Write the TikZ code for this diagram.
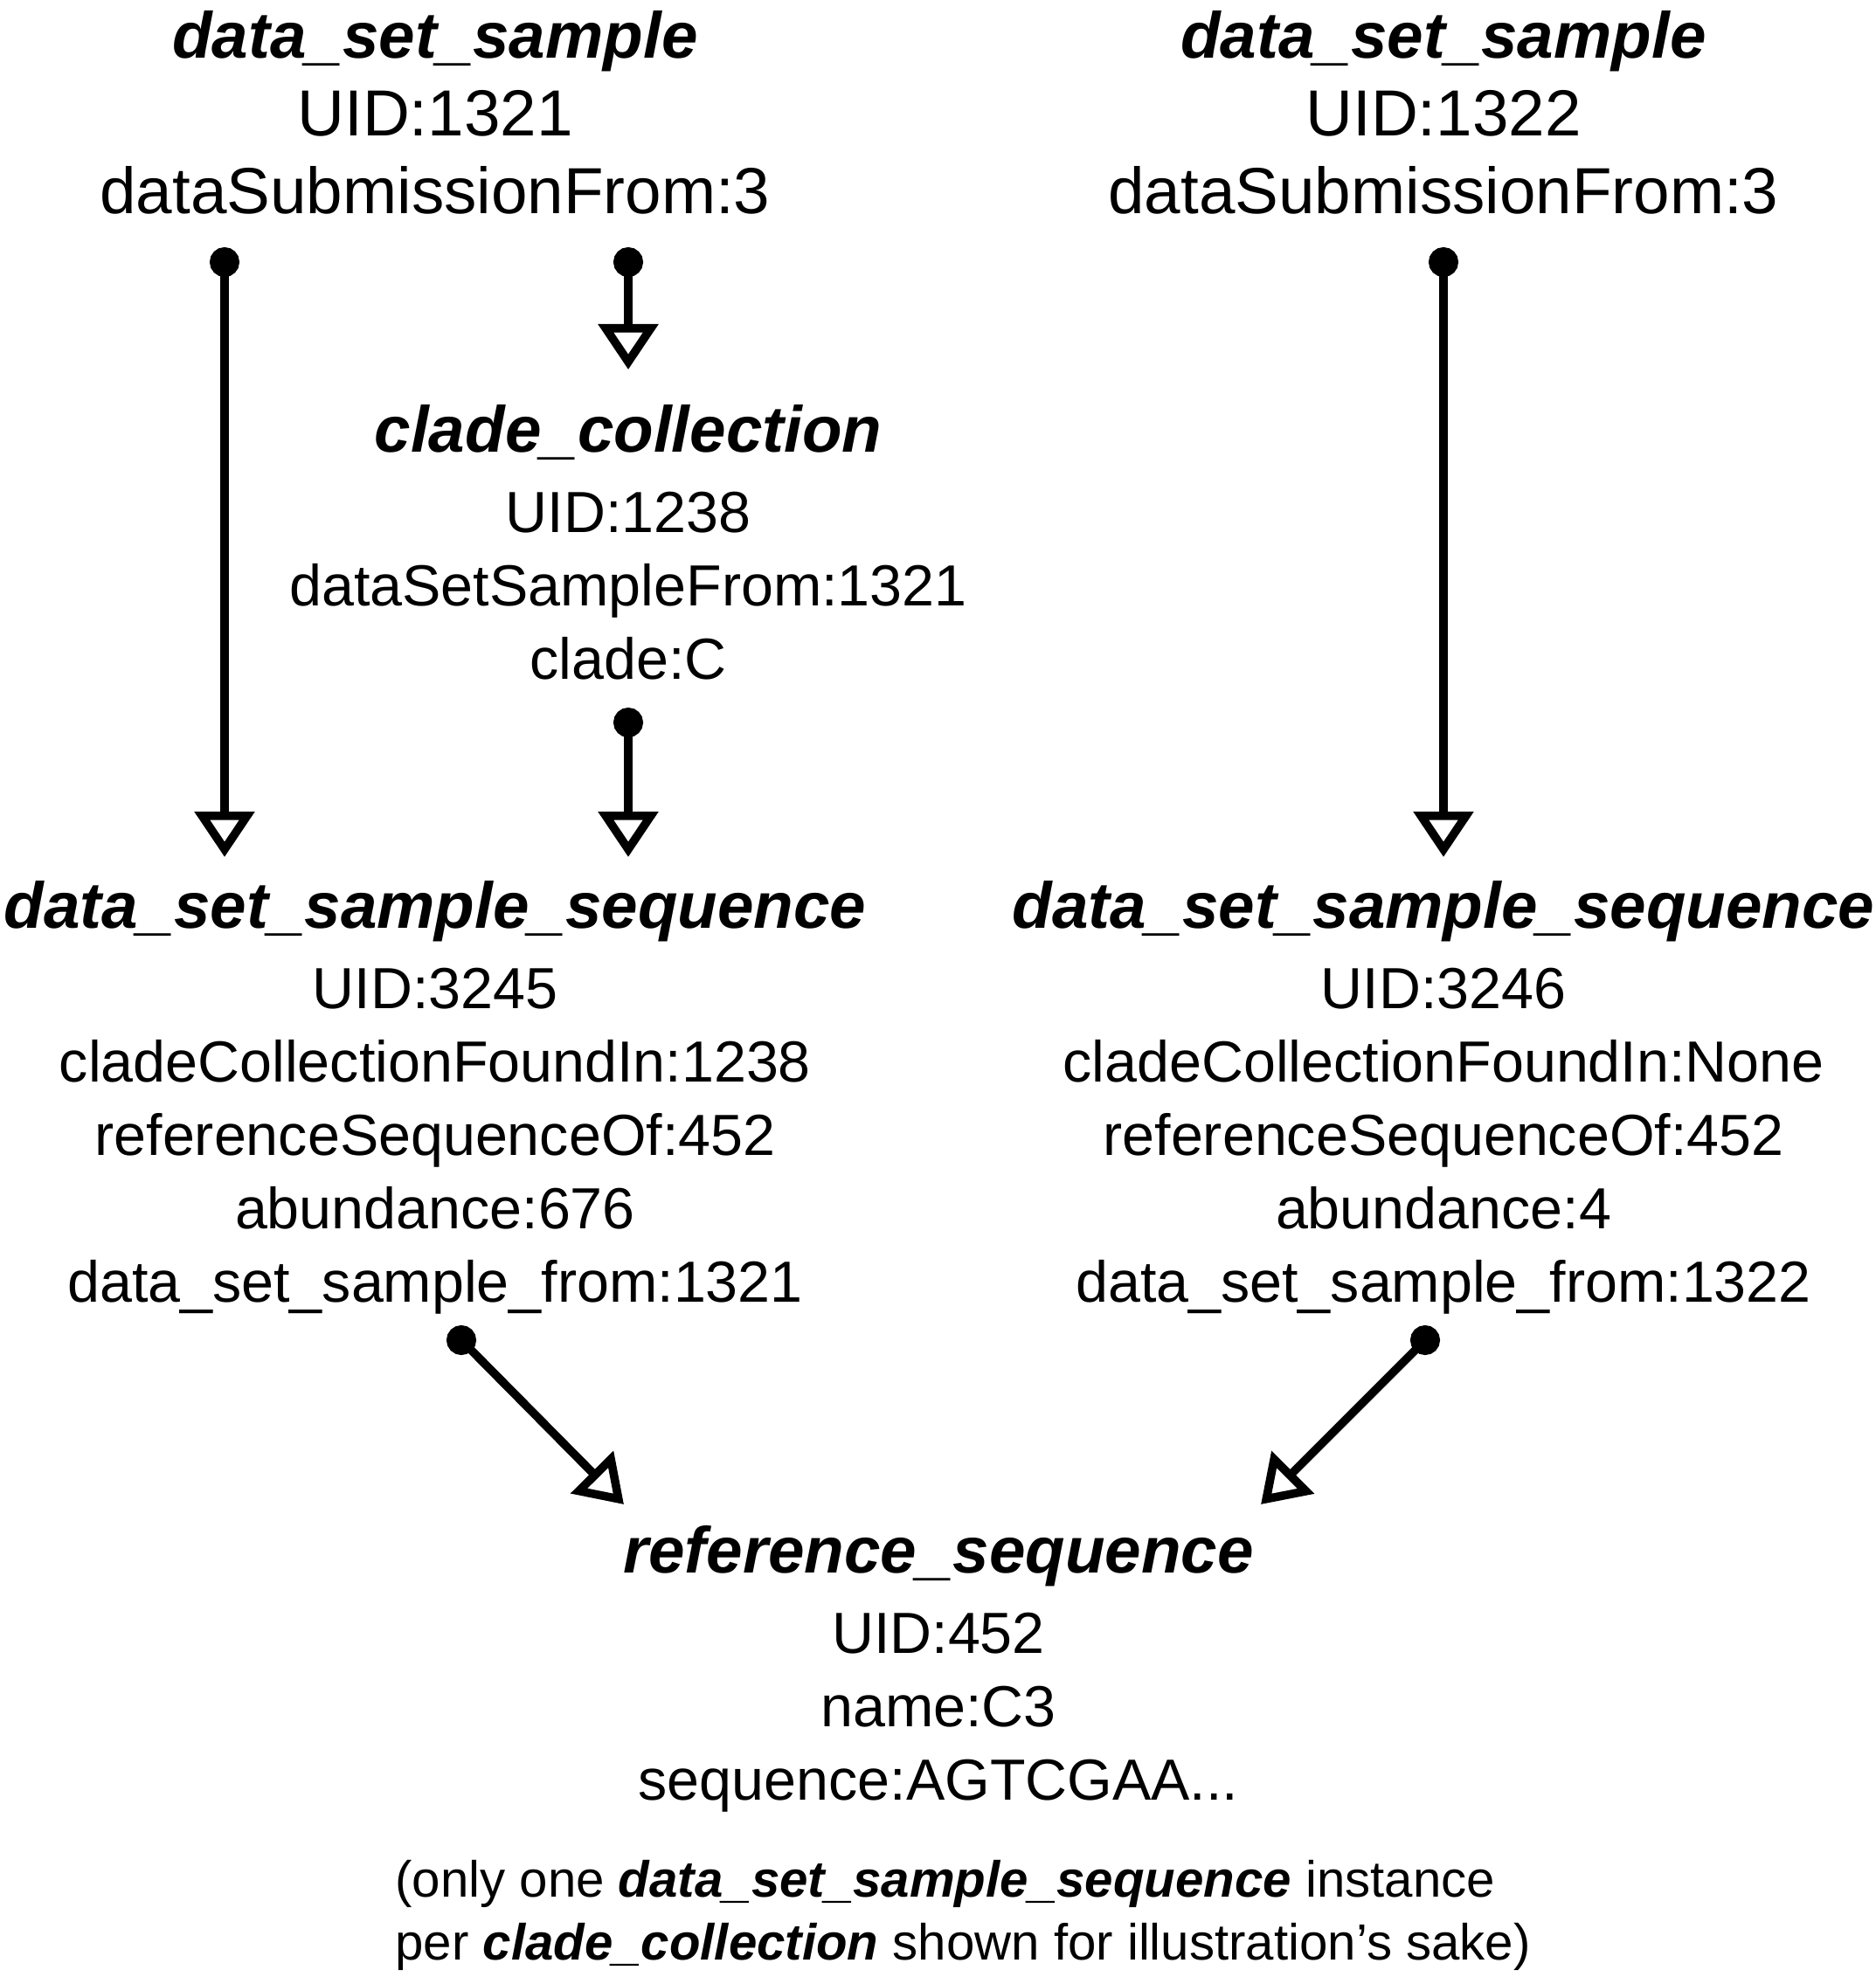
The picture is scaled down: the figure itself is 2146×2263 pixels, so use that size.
\documentclass[tikz,border=0pt]{standalone}
\usepackage{fontspec}
\setmainfont{Liberation Sans}
\usetikzlibrary{arrows.meta,calc}
\newcommand{\tblname}[1]{{\fontsize{37.3}{44.5}\selectfont\bfseries\itshape #1}}
\tikzset{
  topbox/.style={
    font=\fontsize{37.3}{44.5}\selectfont,
    align=center,
    inner sep=0pt,
    anchor=base
  },
  recbox/.style={
    font=\fontsize{33.2}{42}\selectfont,
    align=center,
    inner sep=0pt,
    anchor=base
  },
  notebox/.style={
    font=\fontsize{29.1}{36}\selectfont,
    align=left,
    inner sep=0pt,
    anchor=base west
  },
  fklink/.style={
    line width=4.8pt,
    {Circle[length=17pt]}-{Triangle[open,length=26pt,width=33.5pt]},
    shorten <=-8.5pt
  }
}
\begin{document}
\begin{tikzpicture}[x=0.5pt,y=-0.5pt]
  \useasboundingbox (0,0) rectangle (2146,2263);

  \node[topbox] (dss1) at (498,245) {\tblname{data\_set\_sample}\\UID:1321\\dataSubmissionFrom:3};
  \node[topbox] (dss2) at (1652,245) {\tblname{data\_set\_sample}\\UID:1322\\dataSubmissionFrom:3};
  \node[recbox] (cc) at (719,777) {\tblname{clade\_collection}\\[4pt]UID:1238\\dataSetSampleFrom:1321\\clade:C};
  \node[recbox] (dsseq1) at (498,1490) {\tblname{data\_set\_sample\_sequence}\\[4pt]UID:3245\\cladeCollectionFoundIn:1238\\referenceSequenceOf:452\\abundance:676\\data\_set\_sample\_from:1321};
  \node[recbox] (dsseq2) at (1652,1490) {\tblname{data\_set\_sample\_sequence}\\[4pt]UID:3246\\cladeCollectionFoundIn:None\\referenceSequenceOf:452\\abundance:4\\data\_set\_sample\_from:1322};
  \node[recbox] (refseq) at (1074,2060) {\tblname{reference\_sequence}\\[4pt]UID:452\\name:C3\\sequence:AGTCGAA...};
  \node[notebox] (note) at (452,2243) {(only one \textbf{\textit{data\_set\_sample\_sequence}} instance\\per \textbf{\textit{clade\_collection}} shown for illustration’s sake)};

  \coordinate (dss1-a) at (257,300);
  \coordinate (dss1-b) at (719,300);
  \coordinate (dss2-a) at (1652,300);
  \coordinate (cc-a) at (719,827);
  \coordinate (dsseq1-a) at (528,1534);
  \coordinate (dsseq2-a) at (1631,1534);
  \coordinate (dsseq1-in) at (257,981);
  \coordinate (dsseq1-in2) at (719,981);
  \coordinate (cc-in) at (719,423);
  \coordinate (dsseq2-in) at (1652,981);
  \coordinate (refseq-in1) at (714,1722);
  \coordinate (refseq-in2) at (1443,1722);

  \draw[fklink] (dss1-a) -- (dsseq1-in);
  \draw[fklink] (dss1-b) -- (cc-in);
  \draw[fklink] (cc-a) -- (dsseq1-in2);
  \draw[fklink] (dss2-a) -- (dsseq2-in);
  \draw[fklink] (dsseq1-a) -- (refseq-in1);
  \draw[fklink] (dsseq2-a) -- (refseq-in2);
\end{tikzpicture}
\end{document}
